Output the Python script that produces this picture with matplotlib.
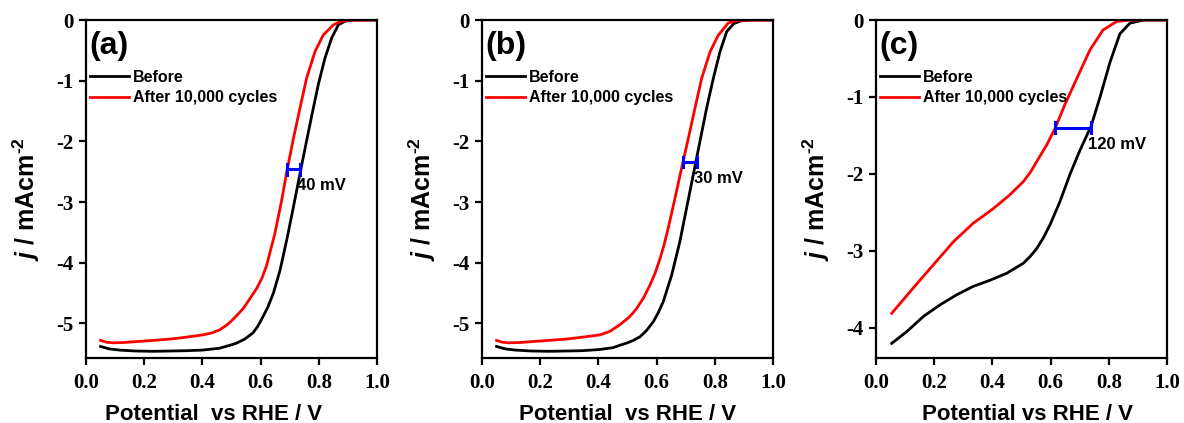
import matplotlib.pyplot as plt

plt.rcParams["mathtext.fontset"] = "custom"
plt.rcParams["mathtext.rm"] = "Liberation Sans:bold"
plt.rcParams["mathtext.bf"] = "Liberation Sans:bold"
plt.rcParams["mathtext.it"] = "Liberation Sans:bold:italic"

# (potential V, current density mA/cm2)
A_BEFORE_V = [0.05, 0.08, 0.115, 0.17, 0.229, 0.29, 0.344, 0.40, 0.458, 0.495, 0.515, 0.545, 0.573, 0.59,
              0.607, 0.625, 0.644, 0.667, 0.69, 0.712, 0.73, 0.753, 0.776, 0.798, 0.821, 0.844, 0.867, 0.89, 0.92, 1.0]
A_BEFORE_J = [-5.38, -5.42, -5.44, -5.455, -5.46, -5.455, -5.45, -5.44, -5.41, -5.36, -5.33, -5.26, -5.16, -5.05,
              -4.90, -4.73, -4.50, -4.12, -3.62, -3.10, -2.66, -2.11, -1.57, -1.07, -0.63, -0.30, -0.08, -0.02, 0.0, 0.0]
A_AFTER_V = [0.05, 0.07, 0.092, 0.13, 0.172, 0.23, 0.286, 0.34, 0.40, 0.43, 0.458, 0.483, 0.504, 0.522, 0.541, 0.565,
             0.587, 0.605, 0.621, 0.635, 0.649, 0.672, 0.69, 0.712, 0.735, 0.758, 0.787, 0.815, 0.85, 0.873, 0.9, 1.0]
A_AFTER_J = [-5.28, -5.31, -5.32, -5.315, -5.30, -5.28, -5.26, -5.23, -5.19, -5.16, -5.11, -5.03, -4.94, -4.85, -4.75,
             -4.58, -4.42, -4.25, -4.04, -3.78, -3.52, -2.98, -2.50, -1.97, -1.46, -0.96, -0.52, -0.25, -0.08, -0.03,
             -0.005, 0.0]

B_BEFORE_V = [0.05, 0.08, 0.115, 0.17, 0.229, 0.29, 0.344, 0.405, 0.45, 0.474, 0.50, 0.52, 0.543, 0.565, 0.589,
              0.605, 0.623, 0.652, 0.68, 0.703, 0.726, 0.749, 0.772, 0.795, 0.818, 0.841, 0.865, 0.89, 0.92, 1.0]
B_BEFORE_J = [-5.38, -5.42, -5.44, -5.455, -5.46, -5.455, -5.45, -5.43, -5.40, -5.36, -5.32, -5.28, -5.22, -5.12,
              -4.97, -4.83, -4.64, -4.2, -3.65, -3.10, -2.55, -2.0, -1.45, -0.96, -0.52, -0.19, -0.06, -0.015, 0.0, 0.0]
B_AFTER_V = [0.05, 0.07, 0.092, 0.13, 0.172, 0.23, 0.286, 0.34, 0.405, 0.44, 0.474, 0.50, 0.515, 0.532, 0.555, 0.577,
             0.595, 0.612, 0.626, 0.64, 0.663, 0.686, 0.709, 0.732, 0.755, 0.784, 0.812, 0.846, 0.87, 0.9, 1.0]
B_AFTER_J = [-5.28, -5.31, -5.32, -5.315, -5.30, -5.28, -5.26, -5.23, -5.19, -5.13, -5.02, -4.92, -4.85, -4.75, -4.58,
             -4.37, -4.17, -3.93, -3.70, -3.43, -2.94, -2.44, -1.95, -1.45, -0.96, -0.52, -0.25, -0.05, -0.015, -0.003,
             0.0]

C_BEFORE_V = [0.054, 0.105, 0.163, 0.22, 0.277, 0.334, 0.392, 0.449, 0.506, 0.53, 0.552, 0.575, 0.598, 0.632, 0.667,
              0.70, 0.739, 0.77, 0.804, 0.838, 0.873, 0.92, 1.0]
C_BEFORE_J = [-4.2, -4.05, -3.85, -3.70, -3.57, -3.46, -3.38, -3.29, -3.16, -3.07, -2.97, -2.83, -2.66, -2.36, -2.0,
              -1.70, -1.38, -1.0, -0.55, -0.18, -0.04, 0.0, 0.0]
C_AFTER_V = [0.054, 0.128, 0.197, 0.266, 0.334, 0.403, 0.46, 0.506, 0.53, 0.552, 0.587, 0.615, 0.649, 0.69, 0.735,
             0.78, 0.827, 0.873, 1.0]
C_AFTER_J = [-3.81, -3.48, -3.18, -2.88, -2.64, -2.45, -2.27, -2.10, -1.98, -1.84, -1.62, -1.41, -1.10, -0.76, -0.39,
             -0.13, -0.02, 0.0, 0.0]

PANELS = ["(a)", "(b)", "(c)"]
SHIFT_LABELS = ["40 mV", "30 mV", "120 mV"]
SHIFT_X = [(0.69, 0.735), (0.69, 0.738), (0.615, 0.739)]
SHIFT_Y = [-2.46, -2.34, -1.40]
YLIMS = [(-5.57, 0), (-5.57, 0), (-4.39, 0)]
YTICKS = [[0, -1, -2, -3, -4, -5], [0, -1, -2, -3, -4, -5], [0, -1, -2, -3, -4]]
XTICKS = [0.0, 0.2, 0.4, 0.6, 0.8, 1.0]
XLABELS = ["Potential  vs RHE / V", "Potential  vs RHE / V", "Potential vs RHE / V"]
XLABEL_POS = [0.44, 0.5, 0.52]

data = [
    (A_BEFORE_V, A_BEFORE_J, A_AFTER_V, A_AFTER_J),
    (B_BEFORE_V, B_BEFORE_J, B_AFTER_V, B_AFTER_J),
    (C_BEFORE_V, C_BEFORE_J, C_AFTER_V, C_AFTER_J),
]

fig = plt.figure(figsize=(11.84, 4.23), dpi=100)
lefts = [86 / 1184, 482 / 1184, 876 / 1184]

for i, (bv, bj, av, aj) in enumerate(data):
    ax = fig.add_axes([lefts[i], 0.1537, 291 / 1184, 0.799])
    ax.plot(bv, bj, color="black", lw=2.0, label="Before", solid_joinstyle="round")
    ax.plot(av, aj, color="#ff0000", lw=2.0, label="After 10,000 cycles", solid_joinstyle="round")

    # shift marker
    x0, x1 = SHIFT_X[i]
    y = SHIFT_Y[i]
    cap = 0.09 * (YLIMS[i][1] - YLIMS[i][0]) / 5.57
    ax.plot([x0, x1], [y, y], color="#0000ff", lw=2.2)
    ax.plot([x0, x0], [y - cap, y + cap], color="#0000ff", lw=2.2)
    ax.plot([x1, x1], [y - cap, y + cap], color="#0000ff", lw=2.2)
    ax.annotate(SHIFT_LABELS[i], (x1, y), xytext=(-2, -12), textcoords="offset points",
                fontsize=12, fontweight="bold", family="Liberation Sans", va="center")

    ax.set_xlim(0, 1.0)
    ax.set_ylim(*YLIMS[i])
    ax.set_xticks(XTICKS)
    ax.set_xticklabels([f"{t:.1f}" for t in XTICKS])
    ax.set_yticks(YTICKS[i])
    ax.set_yticklabels([str(t) for t in YTICKS[i]])
    for lab in ax.get_xticklabels() + ax.get_yticklabels():
        lab.set_family("Liberation Serif")
        lab.set_fontweight("bold")
        lab.set_fontsize(15)
    ax.tick_params(direction="out", length=5, width=1.6, pad=4)
    ax.tick_params(axis="x", pad=6)
    for s in ax.spines.values():
        s.set_linewidth(1.6)

    ax.set_xlabel(XLABELS[i], fontsize=16, fontweight="bold", family="Liberation Sans")
    ax.xaxis.set_label_coords(XLABEL_POS[i], -0.135)
    ax.set_ylabel(r"$\mathit{j}$ / mAcm$^{\text{-2}}$", fontsize=18, fontweight="bold",
                  family="Liberation Sans")
    ax.yaxis.set_label_coords(-0.15, 0.47)
    ax.text(0.01, 0.968, PANELS[i], transform=ax.transAxes, fontsize=23, fontweight="bold",
            family="Liberation Sans", va="top", ha="left")
    ax.legend(loc="upper left", bbox_to_anchor=(-0.035, 0.895), frameon=False, handlelength=2.4,
              handletextpad=0.25, labelspacing=0.35,
              prop={"family": "Liberation Sans", "weight": "bold", "size": 11.5})

fig.savefig("out.png", dpi=100)
